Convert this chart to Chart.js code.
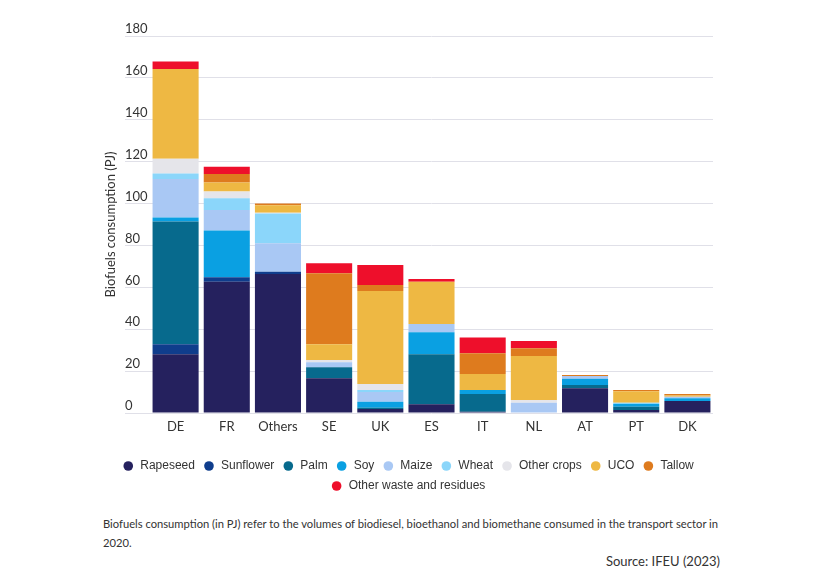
<!DOCTYPE html>
<html lang="en">
<head>
  <meta charset="UTF-8">
  <title>Biofuels consumption</title>
  <script src="https://cdn.jsdelivr.net/npm/chart.js"></script>
  <style>
    body { margin: 0; background: #fff; font-family: Lato, "Noto Sans", sans-serif; color: #333; }
    #wrap { position: absolute; left: 0; top: 0; width: 840px; height: 510px; }
    #note { position: absolute; left: 103px; top: 514px; font-size: 11.2px; line-height: 19px; white-space: nowrap; }
    #source { position: absolute; right: 120px; top: 553px; font-size: 13px; }
  </style>
</head>
<body>
  <div id="wrap"><canvas id="bioChart"></canvas></div>
  <div id="note">Biofuels consumption (in PJ) refer to the volumes of biodiesel, bioethanol and biomethane consumed in the transport sector in<br>2020.</div>
  <div id="source">Source: IFEU (2023)</div>

  <script>
    const countries = ['DE', 'FR', 'Others', 'SE', 'UK', 'ES', 'IT', 'NL', 'AT', 'PT', 'DK'];
    const yTicks = [0, 20, 40, 60, 80, 100, 120, 140, 160, 180];

    // PJ per feedstock, same order as countries
    const rapeseed   = [28.0, 62.7, 66.4, 16.6, 1.9, 4.2, 0.6, 0, 11.8, 1.4, 5.7];
    const sunflower  = [4.8, 2.1, 1.1, 0, 0, 0, 0, 0, 0, 0, 0];
    const palm       = [58.6, 0, 0, 5.2, 0.6, 23.8, 8.5, 0, 1.6, 1.6, 0];
    const soy        = [1.9, 22.3, 0, 0, 2.9, 10.5, 1.9, 0, 3.0, 1.3, 1.3];
    const maize      = [18.4, 9.8, 13.5, 2.4, 4.6, 4.0, 0, 4.9, 1.3, 0, 0.8];
    const wheat      = [2.7, 5.6, 14.3, 0, 1.0, 0, 0, 0, 0, 0.6, 0];
    const otherCrops = [7.0, 3.2, 0.3, 1.1, 2.8, 0, 0, 1.3, 0, 0, 0];
    const uco        = [42.8, 4.3, 3.6, 7.5, 44.5, 20.2, 7.6, 21.0, 0, 5.5, 0.5];
    const tallow     = [0, 4.1, 0.8, 33.9, 2.8, 0, 9.9, 3.7, 0.4, 0.6, 0.8];
    const otherWaste = [3.6, 3.5, 0, 4.8, 9.6, 1.3, 7.6, 3.5, 0, 0, 0];

    const series = [
      ['Rapeseed', rapeseed, '#25215e'],
      ['Sunflower', sunflower, '#0f3d8c'],
      ['Palm', palm, '#076a8d'],
      ['Soy', soy, '#0aa0e2'],
      ['Maize', maize, '#a9c8f4'],
      ['Wheat', wheat, '#8bd6fa'],
      ['Other crops', otherCrops, '#e5e5ea'],
      ['UCO', uco, '#eeb843'],
      ['Tallow', tallow, '#de7b1e'],
      ['Other waste and residues', otherWaste, '#ee0f2b']
    ];

    const ctx = document.getElementById('bioChart').getContext('2d');
    new Chart(ctx, {
      type: 'bar',
      data: {
        labels: countries,
        datasets: series.map(([label, data, color]) => ({
          label: label,
          data: data,
          backgroundColor: color,
          borderWidth: 0,
          barPercentage: 0.9,
          categoryPercentage: 1
        }))
      },
      options: {
        responsive: true,
        maintainAspectRatio: false,
        animation: false,
        layout: { padding: { top: 36, left: 103, right: 127, bottom: 8 } },
        font: { family: 'Lato, "Noto Sans", sans-serif', size: 13 },
        color: '#333',
        plugins: {
          legend: {
            position: 'bottom',
            labels: {
              usePointStyle: true,
              pointStyle: 'circle',
              boxWidth: 12,
              boxHeight: 6.8,
              padding: 8,
              color: '#333',
              font: { size: 12 }
            }
          },
          tooltip: { enabled: false }
        },
        scales: {
          x: {
            stacked: true,
            grid: { display: false, drawTicks: false },
            border: { display: false },
            ticks: { color: '#333', padding: 6, font: { size: 13 } },
            afterFit: (axis) => { axis.height = 39; }
          },
          y: {
            stacked: true,
            min: 0,
            max: 180,
            afterBuildTicks: (axis) => { axis.ticks = yTicks.map(v => ({ value: v })); },
            afterFit: (axis) => { axis.width = 47; },
            grid: { color: '#e0e0e8', tickLength: 25 },
            border: { display: false },
            ticks: { mirror: true, padding: -25, labelOffset: -7, color: '#333', font: { size: 13 } },
            title: {
              display: true,
              text: 'Biofuels consumption (PJ)',
              color: '#333',
              font: { size: 13 },
              padding: { top: 0, bottom: 8 }
            }
          }
        }
      }
    });
  </script>
</body>
</html>
